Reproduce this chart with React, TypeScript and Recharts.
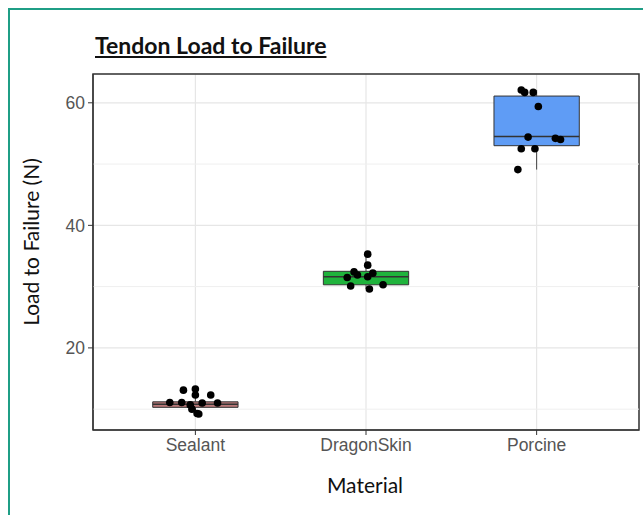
import {
  ComposedChart,
  CartesianGrid,
  ReferenceArea,
  ReferenceLine,
  Scatter,
  XAxis,
  YAxis
} from "recharts";

const materials = ["Sealant", "DragonSkin", "Porcine"];
const boxFills = ["#b87777", "#1fb33c", "#5f9cf5"];

// box stats: lower whisker, Q1, median, Q3, upper whisker
const whiskerLow = [9.2, 29.6, 49.1];
const q1 = [10.3, 30.3, 53.0];
const median = [10.8, 31.6, 54.5];
const q3 = [11.2, 32.5, 61.1];
const whiskerHigh = [13.3, 35.3, 62.1];

// jittered points
const sealantValues = [13.1, 13.3, 12.3, 12.3, 11.1, 11.1, 10.7, 11.0, 11.0, 10.0, 9.3, 9.2];
const sealantJitter = [-0.07, 0.0, 0.0, 0.09, -0.15, -0.08, -0.03, 0.04, 0.13, -0.02, 0.01, 0.02];
const dragonValues = [35.3, 33.5, 32.4, 32.2, 31.5, 31.6, 30.1, 29.6, 30.3, 31.9];
const dragonJitter = [0.01, 0.01, -0.07, 0.04, -0.11, 0.01, -0.09, 0.02, 0.1, -0.05];
const porcineValues = [62.1, 61.7, 61.7, 59.4, 54.4, 54.2, 54.0, 52.5, 52.5, 49.1];
const porcineJitter = [-0.09, -0.07, -0.02, 0.01, -0.05, 0.11, 0.14, -0.09, -0.01, -0.11];

const yTicks = [20, 40, 60];
const yMinor = [10, 30, 50];

const points = [
  ...sealantValues.map((v, i) => ({ x: 1 + sealantJitter[i], y: v })),
  ...dragonValues.map((v, i) => ({ x: 2 + dragonJitter[i], y: v })),
  ...porcineValues.map((v, i) => ({ x: 3 + porcineJitter[i], y: v }))
];

const labelFont = "Lato, 'Open Sans', sans-serif";
const tickStyle = { fontSize: 17.5, fill: "#555555", fontFamily: "'Liberation Sans', Arial, sans-serif" };

export default function App() {
  const half = 0.25;
  return (
    <div style={{ position: "absolute", left: 0, top: 0, width: 643, height: 515, background: "#fff", overflow: "hidden" }}>
      <div
        style={{
          position: "absolute",
          left: 8,
          top: 8,
          width: 700,
          height: 600,
          borderLeft: "2px solid #1f9e86",
          borderTop: "2px solid #1f9e86"
        }}
      />
      <div
        style={{
          position: "absolute",
          left: 95,
          top: 31,
          fontFamily: labelFont,
          fontWeight: 700,
          fontSize: 23,
          textDecoration: "underline",
          color: "#111"
        }}
      >
        Tendon Load to Failure
      </div>
      <div
        style={{
          position: "absolute",
          left: 30,
          top: 242,
          transform: "translate(-50%, -50%) rotate(-90deg)",
          whiteSpace: "nowrap",
          fontFamily: labelFont,
          fontSize: 21,
          color: "#111"
        }}
      >
        Load to Failure (N)
      </div>
      <div
        style={{
          position: "absolute",
          left: 365,
          top: 484,
          transform: "translate(-50%, -50%)",
          fontFamily: labelFont,
          fontSize: 21,
          color: "#111"
        }}
      >
        Material
      </div>
      <div style={{ position: "absolute", left: 0, top: 0 }}>
        <ComposedChart width={643} height={515} margin={{ top: 74, right: 4, bottom: 55, left: 53 }}>
          <CartesianGrid stroke="#e6e6e6" strokeWidth={1.2} />
          {yMinor.map((v) => (
            <ReferenceLine key={v} y={v} stroke="#efefef" strokeWidth={1} />
          ))}
          <XAxis
            type="number"
            dataKey="x"
            domain={[0.4, 3.6]}
            ticks={[1, 2, 3]}
            tickFormatter={(v: number) => materials[Math.round(v) - 1]}
            tick={tickStyle}
            tickSize={5}
            tickMargin={4}
            stroke="#333"
            height={30}
            allowDataOverflow
          />
          <YAxis
            type="number"
            dataKey="y"
            domain={[6.6, 64.7]}
            ticks={yTicks}
            tick={tickStyle}
            tickSize={5}
            tickMargin={3}
            stroke="#333"
            width={40}
            allowDataOverflow
          />
          <ReferenceArea x1={0.4} x2={3.6} y1={6.6} y2={64.7} fill="none" stroke="#333" strokeWidth={1.5} />
          {materials.map((m, i) => (
            <ReferenceLine
              key={m + "-wl"}
              segment={[
                { x: i + 1, y: whiskerLow[i] },
                { x: i + 1, y: q1[i] }
              ]}
              stroke="#444"
              strokeWidth={1}
            />
          ))}
          {materials.map((m, i) => (
            <ReferenceLine
              key={m + "-wh"}
              segment={[
                { x: i + 1, y: q3[i] },
                { x: i + 1, y: whiskerHigh[i] }
              ]}
              stroke="#444"
              strokeWidth={1}
            />
          ))}
          {materials.map((m, i) => (
            <ReferenceArea
              key={m + "-box"}
              x1={i + 1 - half}
              x2={i + 1 + half}
              y1={q1[i]}
              y2={q3[i]}
              fill={boxFills[i]}
              fillOpacity={1}
              stroke="#333"
              strokeWidth={1}
            />
          ))}
          {materials.map((m, i) => (
            <ReferenceLine
              key={m + "-med"}
              segment={[
                { x: i + 1 - half, y: median[i] },
                { x: i + 1 + half, y: median[i] }
              ]}
              stroke="#333"
              strokeWidth={1.6}
            />
          ))}
          <Scatter
            data={points}
            isAnimationActive={false}
            shape={(p: any) => <circle cx={p.cx} cy={p.cy} r={3.8} fill="#000" />}
          />
        </ComposedChart>
      </div>
    </div>
  );
}
